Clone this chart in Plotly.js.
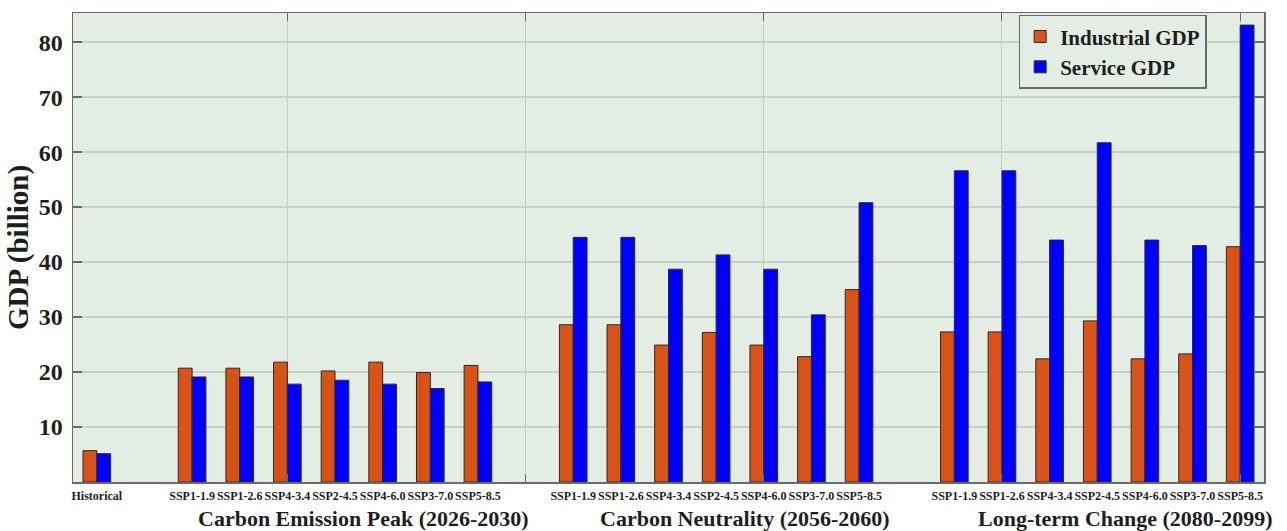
<!DOCTYPE html>
<html>
<head>
<meta charset="utf-8">
<script src="https://cdn.plot.ly/plotly-3.0.1.min.js"></script>
<style>html,body{margin:0;padding:0;background:#fff;}#chart{width:1287px;height:531px;}</style>
</head>
<body>
<div id="chart"></div>
<script>
// ---- data ----
const periods = ['Carbon Emission Peak (2026-2030)', 'Carbon Neutrality (2056-2060)', 'Long-term Change (2080-2099)'];
const scenarios = ['SSP1-1.9', 'SSP1-2.6', 'SSP4-3.4', 'SSP2-4.5', 'SSP4-6.0', 'SSP3-7.0', 'SSP5-8.5'];
const historicalLabel = 'Historical';
const historicalIndustrial = 5.7;
const historicalService = 5.15;
const peakIndustrial = [20.7, 20.7, 21.8, 20.2, 21.8, 19.9, 21.2];
const peakService = [19.1, 19.1, 17.8, 18.5, 17.8, 17.0, 18.2];
const neutralIndustrial = [28.6, 28.6, 24.9, 27.2, 24.9, 22.8, 35.0];
const neutralService = [44.5, 44.5, 38.7, 41.3, 38.7, 30.4, 50.8];
const longIndustrial = [27.3, 27.3, 22.4, 29.3, 22.4, 23.3, 42.8];
const longService = [56.6, 56.6, 44.0, 61.7, 44.0, 43.0, 83.1];
const seriesNames = ['Industrial GDP', 'Service GDP'];
const yTicks = [10, 20, 30, 40, 50, 60, 70, 80];

// ---- layout helpers ----
const FONT = '"Liberation Serif", "Times New Roman", serif';
const BG = '#e3ede4';
const GRID = '#c6d0c7';
const AXIS = '#6a6a6a';
const TXT = '#1e1e1e';

// slot index: Historical at 0, then each period takes an empty slot + 7 scenarios
const xs = [0];
const labels = [historicalLabel];
periods.forEach((p, g) => {
  scenarios.forEach((s, i) => { xs.push(2 + g * 8 + i); labels.push(s); });
});
const industrial = [historicalIndustrial].concat(peakIndustrial, neutralIndustrial, longIndustrial);
const service = [historicalService].concat(peakService, neutralService, longService);
const nSlots = 1 + periods.length * 8;

const traces = [
  {type: 'bar', name: seriesNames[0], x: xs, y: industrial,
   marker: {color: '#d95319', line: {color: '#2a2a2a', width: 1}}},
  {type: 'bar', name: seriesNames[1], x: xs, y: service,
   marker: {color: '#0000ff', line: {color: '#2a2a2a', width: 1}}},
  {type: 'scatter', x: [0], y: [0], xaxis: 'x2', mode: 'markers',
   marker: {opacity: 0}, showlegend: false, hoverinfo: 'skip'}
];

const gridVals = [];
for (let v = 4; v < nSlots; v += 5) gridVals.push(v);

const annotations = periods.map((p, g) => ({
  text: p, xref: 'x', yref: 'paper', x: 2 + g * 8 + 3 + 0.6, y: -0.077,
  xanchor: 'center', yanchor: 'middle', showarrow: false,
  font: {family: FONT, size: 22, color: TXT, weight: 'bold'}
}));

const layout = {
  width: 1287, height: 531,
  margin: {l: 73, r: 23, t: 13, b: 49, pad: 0},
  paper_bgcolor: '#ffffff', plot_bgcolor: BG,
  barmode: 'group', bargap: 0.42, bargroupgap: 0,
  showlegend: true,
  legend: {x: 0.794, y: 0.996, xanchor: 'left', yanchor: 'top',
    bgcolor: BG, bordercolor: AXIS, borderwidth: 1.5,
    font: {family: FONT, size: 21, color: TXT, weight: 'bold'},
    tracegroupgap: 0, itemwidth: 30},
  xaxis: {range: [-0.5, nSlots - 0.5], tickvals: xs, ticktext: labels, tickangle: 0,
    tickfont: {family: FONT, size: 12, color: TXT, weight: 'bold'},
    ticks: '', showgrid: false, zeroline: false, ticklabelstandoff: 2,
    showline: true, linecolor: AXIS, linewidth: 1.5, mirror: true},
  xaxis2: {overlaying: 'x', anchor: 'y', range: [-0.5, nSlots - 0.5],
    tickvals: gridVals, showticklabels: false, ticks: 'inside', ticklen: 8,
    tickwidth: 1, tickcolor: AXIS, showgrid: true, gridcolor: GRID, gridwidth: 1,
    zeroline: false, showline: false, mirror: 'ticks'},
  yaxis: {range: [0, 85.3], tickvals: yTicks, ticks: 'inside', ticklen: 9,
    tickwidth: 1.5, tickcolor: AXIS, mirror: 'ticks', showline: true,
    linecolor: AXIS, linewidth: 1.5, showgrid: true, gridcolor: GRID, gridwidth: 1.5,
    zeroline: false, ticklabelstandoff: 4,
    tickfont: {family: FONT, size: 24, color: TXT, weight: 'bold'},
    title: {text: 'GDP (billion)', standoff: 1,
      font: {family: FONT, size: 29, color: TXT, weight: 'bold'}}},
  annotations: annotations
};

Plotly.newPlot('chart', traces, layout, {displayModeBar: false, staticPlot: true});
</script>
</body>
</html>
